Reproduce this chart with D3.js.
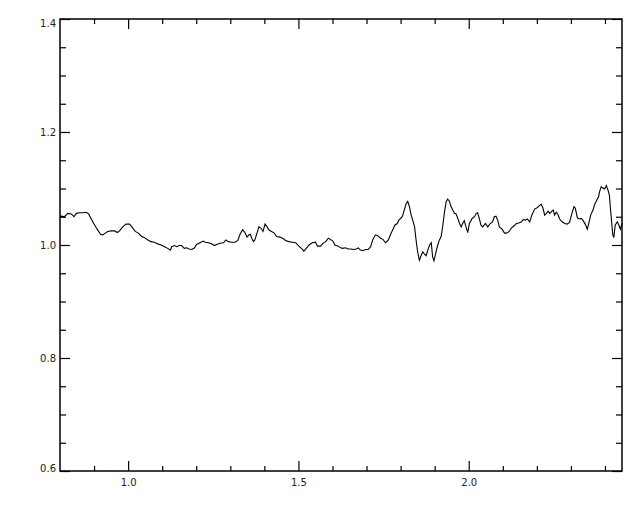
<!DOCTYPE html>
<html>
<head>
<meta charset="utf-8">
<script src="https://cdn.jsdelivr.net/npm/d3@7"></script>
<style>
  body { margin: 0; background: #fff; }
  text { font-family: "DejaVu Sans", sans-serif; font-size: 10px; fill: #222; }
</style>
</head>
<body>
<div id="chart"></div>
<script>
var svgWidth = 640;
var svgHeight = 512;

var margin = { top: 19, right: 18, bottom: 41, left: 60 };
var width = svgWidth - margin.left - margin.right;
var height = svgHeight - margin.top - margin.bottom;

// spectrum: x position and ratio
var wave = [
  0.800, 0.804, 0.813, 0.823, 0.833, 0.841, 0.848, 0.857, 0.867, 0.877, 0.884, 0.891, 0.899, 0.909, 0.919, 0.926,
  0.933, 0.940, 0.950, 0.960, 0.968, 0.975, 0.984, 0.994, 1.004, 1.011, 1.021, 1.030, 1.038, 1.048, 1.058, 1.067,
  1.077, 1.087, 1.097, 1.107, 1.116, 1.124, 1.128, 1.136, 1.143, 1.150, 1.157, 1.165, 1.172, 1.179, 1.187, 1.195,
  1.201, 1.211, 1.221, 1.226, 1.236, 1.245, 1.253, 1.260, 1.270, 1.280, 1.287, 1.294, 1.304, 1.314, 1.322, 1.328,
  1.336, 1.343, 1.349, 1.355, 1.359, 1.363, 1.368, 1.372, 1.380, 1.384, 1.390, 1.396, 1.402, 1.408, 1.413, 1.421,
  1.429, 1.436, 1.446, 1.456, 1.462, 1.472, 1.482, 1.492, 1.501, 1.509, 1.516, 1.523, 1.531, 1.541, 1.550, 1.556,
  1.565, 1.572, 1.580, 1.588, 1.594, 1.601, 1.607, 1.617, 1.624, 1.630, 1.638, 1.646, 1.653, 1.663, 1.670, 1.676,
  1.682, 1.689, 1.697, 1.705, 1.712, 1.718, 1.726, 1.734, 1.741, 1.748, 1.756, 1.764, 1.770, 1.777, 1.783, 1.790,
  1.795, 1.805, 1.811, 1.816, 1.821, 1.826, 1.831, 1.836, 1.841, 1.846, 1.850, 1.855, 1.860, 1.865, 1.870, 1.875,
  1.880, 1.885, 1.890, 1.894, 1.898, 1.904, 1.909, 1.914, 1.919, 1.924, 1.929, 1.934, 1.938, 1.943, 1.948, 1.953,
  1.958, 1.963, 1.968, 1.973, 1.978, 1.982, 1.987, 1.992, 1.997, 2.002, 2.010, 2.017, 2.022, 2.026, 2.031, 2.036,
  2.041, 2.049, 2.056, 2.063, 2.070, 2.075, 2.080, 2.085, 2.090, 2.098, 2.105, 2.111, 2.119, 2.125, 2.133, 2.140,
  2.147, 2.155, 2.160, 2.166, 2.172, 2.179, 2.186, 2.194, 2.201, 2.208, 2.213, 2.218, 2.223, 2.228, 2.233, 2.238,
  2.243, 2.248, 2.252, 2.257, 2.262, 2.267, 2.274, 2.282, 2.289, 2.296, 2.303, 2.309, 2.313, 2.319, 2.324, 2.330,
  2.335, 2.342, 2.348, 2.352, 2.358, 2.365, 2.369, 2.374, 2.377, 2.381, 2.384, 2.389, 2.394, 2.399, 2.404, 2.409,
  2.413, 2.416, 2.420, 2.423, 2.426, 2.430, 2.436, 2.441, 2.445, 2.450
];
var ratio = [
  1.050, 1.051, 1.050, 1.056, 1.055, 1.050, 1.056, 1.057, 1.057, 1.058, 1.055, 1.047, 1.038, 1.028, 1.019, 1.018,
  1.021, 1.024, 1.025, 1.025, 1.022, 1.025, 1.032, 1.037, 1.037, 1.032, 1.024, 1.021, 1.016, 1.013, 1.009, 1.006,
  1.005, 1.002, 1.000, 0.997, 0.994, 0.991, 0.997, 0.999, 0.997, 0.999, 0.999, 0.994, 0.995, 0.993, 0.992, 0.995,
  1.001, 1.004, 1.007, 1.005, 1.004, 1.002, 0.999, 1.001, 1.003, 1.004, 1.009, 1.006, 1.005, 1.005, 1.008, 1.018,
  1.027, 1.022, 1.014, 1.018, 1.019, 1.012, 1.006, 1.009, 1.024, 1.032, 1.030, 1.024, 1.037, 1.032, 1.027, 1.024,
  1.021, 1.015, 1.014, 1.011, 1.008, 1.006, 1.005, 1.004, 0.998, 0.994, 0.989, 0.994, 1.000, 1.004, 1.005, 0.998,
  0.998, 1.003, 1.006, 1.012, 1.010, 1.007, 1.000, 0.998, 0.995, 0.994, 0.995, 0.993, 0.993, 0.992, 0.993, 0.995,
  0.991, 0.990, 0.992, 0.992, 0.997, 1.009, 1.018, 1.016, 1.012, 1.010, 1.004, 1.009, 1.018, 1.027, 1.035, 1.038,
  1.044, 1.050, 1.062, 1.073, 1.077, 1.068, 1.053, 1.043, 1.032, 1.006, 0.988, 0.973, 0.981, 0.988, 0.984, 0.981,
  0.991, 1.000, 1.004, 0.979, 0.972, 0.988, 1.000, 1.009, 1.015, 1.035, 1.059, 1.077, 1.081, 1.078, 1.068, 1.062,
  1.056, 1.055, 1.047, 1.038, 1.032, 1.038, 1.043, 1.032, 1.022, 1.038, 1.047, 1.050, 1.056, 1.057, 1.047, 1.035,
  1.032, 1.038, 1.032, 1.038, 1.041, 1.050, 1.051, 1.044, 1.032, 1.028, 1.021, 1.021, 1.024, 1.030, 1.034, 1.038,
  1.039, 1.041, 1.045, 1.044, 1.046, 1.041, 1.054, 1.064, 1.066, 1.070, 1.072, 1.065, 1.053, 1.056, 1.060, 1.056,
  1.059, 1.062, 1.053, 1.058, 1.054, 1.046, 1.041, 1.038, 1.037, 1.040, 1.056, 1.068, 1.065, 1.048, 1.046, 1.047,
  1.044, 1.037, 1.028, 1.037, 1.053, 1.062, 1.071, 1.077, 1.081, 1.085, 1.094, 1.103, 1.101, 1.099, 1.105, 1.097,
  1.088, 1.065, 1.038, 1.018, 1.013, 1.035, 1.041, 1.035, 1.028, 1.038
];

// axis ranges and tick labels
var xDomain = [0.8, 2.45];
var yDomain = [0.6, 1.4];
var xMajor = [1.0, 1.5, 2.0];
var yMajor = [0.6, 0.8, 1.0, 1.2, 1.4];
var xMinorStep = 0.1;
var yMinorStep = 0.05;

var data = wave.map(function(w, i) { return { x: w, y: ratio[i] }; });

var svg = d3.select("#chart")
  .append("svg")
  .attr("width", svgWidth)
  .attr("height", svgHeight);

var chartGroup = svg.append("g")
  .attr("transform", `translate(${margin.left}, ${margin.top})`);

var xScale = d3.scaleLinear().domain(xDomain).range([0, width]);
var yScale = d3.scaleLinear().domain(yDomain).range([height, 0]);

var xMinor = d3.range(0.9, 2.45, xMinorStep).filter(v => !xMajor.some(m => Math.abs(m - v) < 1e-6));
var yMinor = d3.range(0.65, 1.4, yMinorStep).filter(v => !yMajor.some(m => Math.abs(m - v) < 1e-6));

function styleAxis(g) {
  g.select(".domain").remove();
  g.selectAll("line").attr("stroke", "#000").attr("stroke-width", 1.2);
}

// bottom axis: labelled majors + minors
chartGroup.append("g")
  .attr("transform", `translate(0, ${height})`)
  .call(d3.axisBottom(xScale).tickValues(xMajor).tickSize(-10).tickPadding(8).tickFormat(d3.format(".1f")))
  .call(styleAxis);
chartGroup.append("g")
  .attr("transform", `translate(0, ${height})`)
  .call(d3.axisBottom(xScale).tickValues(xMinor).tickSize(-5).tickFormat(""))
  .call(styleAxis);

// top axis, no labels
chartGroup.append("g")
  .call(d3.axisTop(xScale).tickValues(xMajor).tickSize(-10).tickFormat(""))
  .call(styleAxis);
chartGroup.append("g")
  .call(d3.axisTop(xScale).tickValues(xMinor).tickSize(-5).tickFormat(""))
  .call(styleAxis);

// left axis
var leftAxis = chartGroup.append("g")
  .call(d3.axisLeft(yScale).tickValues(yMajor).tickSize(-10).tickPadding(4).tickFormat(d3.format(".1f")))
  .call(styleAxis);
chartGroup.append("g")
  .call(d3.axisLeft(yScale).tickValues(yMinor).tickSize(-6).tickFormat(""))
  .call(styleAxis);

// end labels are nudged inside the frame
leftAxis.selectAll(".tick text")
  .attr("dy", d => d === 1.4 ? "0.75em" : d === 0.6 ? "0" : "0.32em");

// right axis, no labels
chartGroup.append("g")
  .attr("transform", `translate(${width}, 0)`)
  .call(d3.axisRight(yScale).tickValues(yMajor).tickSize(-10).tickFormat(""))
  .call(styleAxis);
chartGroup.append("g")
  .attr("transform", `translate(${width}, 0)`)
  .call(d3.axisRight(yScale).tickValues(yMinor).tickSize(-6).tickFormat(""))
  .call(styleAxis);

chartGroup.selectAll(".tick text")
  .style("font-family", "DejaVu Sans, sans-serif")
  .style("font-size", "10px")
  .attr("fill", "#222");

// frame
chartGroup.append("rect")
  .attr("width", width)
  .attr("height", height)
  .attr("fill", "none")
  .attr("stroke", "#000")
  .attr("stroke-width", 1.5);

var line = d3.line()
  .x(d => xScale(d.x))
  .y(d => yScale(d.y));

chartGroup.append("path")
  .datum(data)
  .attr("fill", "none")
  .attr("stroke", "#000")
  .attr("stroke-width", 1.1)
  .attr("d", line);
</script>
</body>
</html>
